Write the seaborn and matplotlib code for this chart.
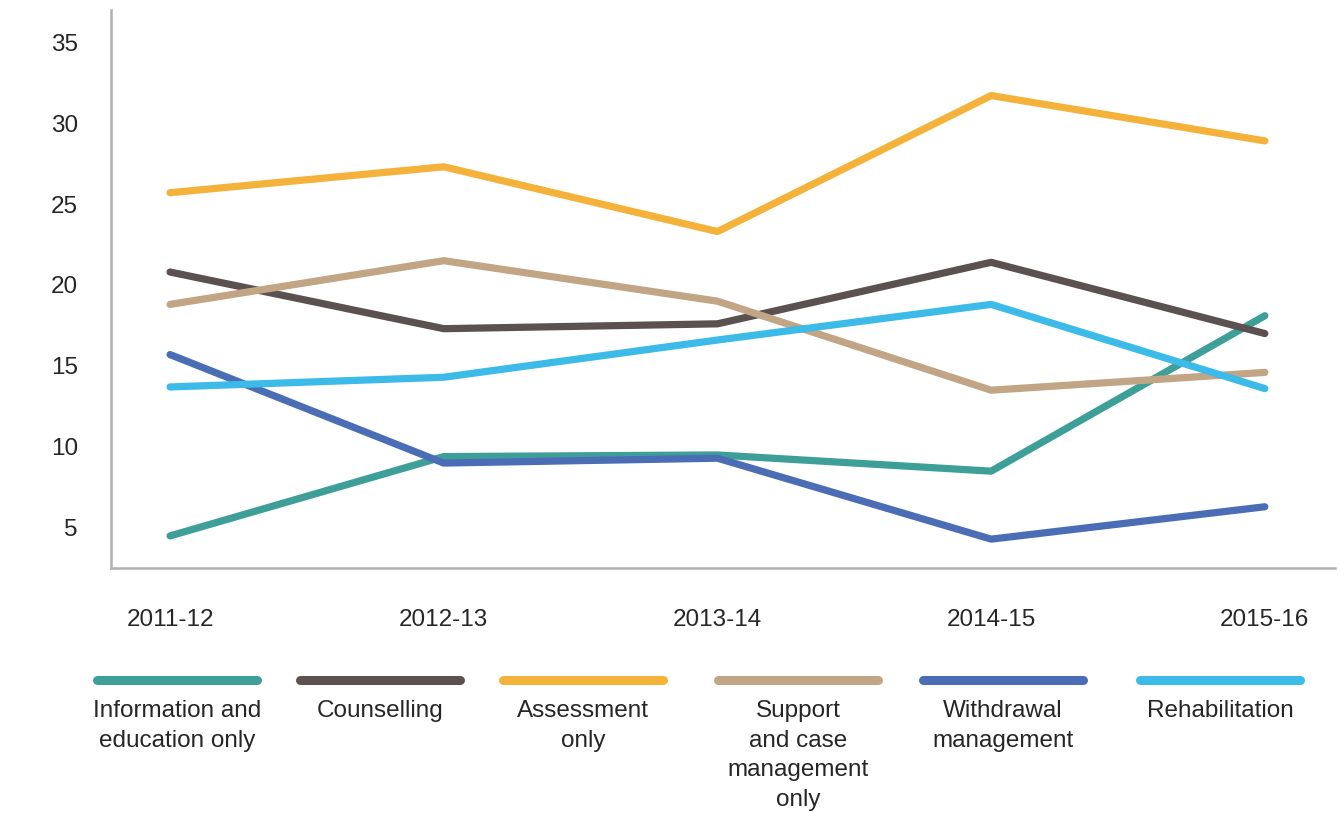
import matplotlib
matplotlib.use("Agg")
import matplotlib.pyplot as plt
from matplotlib.lines import Line2D
import seaborn as sns
import pandas as pd

years = ["2011-12", "2012-13", "2013-14", "2014-15", "2015-16"]
info_education = [4.5, 9.4, 9.5, 8.5, 18.1]
counselling = [20.8, 17.3, 17.6, 21.4, 17.0]
assessment = [25.7, 27.3, 23.3, 31.7, 28.9]
support_case = [18.8, 21.5, 19.0, 13.5, 14.6]
withdrawal = [15.7, 9.0, 9.3, 4.3, 6.3]
rehabilitation = [13.7, 14.3, 16.6, 18.8, 13.6]

series_names = [
    "Information and\neducation only",
    "Counselling",
    "Assessment\nonly",
    "Support\nand case\nmanagement\nonly",
    "Withdrawal\nmanagement",
    "Rehabilitation",
]
series_values = [info_education, counselling, assessment, support_case,
                 withdrawal, rehabilitation]
colors = ["#3e9f99", "#5b5150", "#f5b23a", "#c1a584", "#4b6db6", "#3cbbe9"]
y_ticks = [5, 10, 15, 20, 25, 30, 35]

rows = []
for name, vals in zip(series_names, series_values):
    for yr, v in zip(years, vals):
        rows.append({"year": yr, "value": v, "service": name})
df = pd.DataFrame(rows)

sns.set_theme(style="white")
plt.rcParams["font.family"] = ["Liberation Sans", "DejaVu Sans"]
text_color = "#262626"
font_size = 17.5

fig = plt.figure(figsize=(13.4, 8.13), dpi=100)
ax = fig.add_axes([0.083, 0.301, 0.913, 0.687])

sns.lineplot(data=df, x="year", y="value", hue="service", hue_order=series_names,
             palette=colors, linewidth=5.2, legend=False, ax=ax,
             solid_capstyle="round", solid_joinstyle="round")

ax.set_xlim(-0.215, 4.255)
ax.set_ylim(2.5, 37.0)
ax.set_yticks(y_ticks)
ax.set_yticklabels([str(t) for t in y_ticks], fontsize=font_size, color=text_color)
ax.set_xticks(range(len(years)))
ax.set_xticklabels(years, fontsize=font_size, color=text_color)
ax.tick_params(axis="y", length=0, pad=24)
ax.tick_params(axis="x", length=0, pad=29)
ax.set_xlabel("")
ax.set_ylabel("")
for side in ["top", "right"]:
    ax.spines[side].set_visible(False)
for side in ["left", "bottom"]:
    ax.spines[side].set_color("#b0b0b0")
    ax.spines[side].set_linewidth(1.8)

# Legend row: coloured bar above each centred label
legend_centers = [177, 380, 583, 798, 1003, 1220]
half_len = 80
line_y = 1 - 680 / 813
text_y = 1 - 700 / 813
for cx, name, col in zip(legend_centers, series_names, colors):
    fig.add_artist(Line2D([(cx - half_len) / 1340, (cx + half_len) / 1340],
                          [line_y, line_y], color=col, linewidth=6.5,
                          solid_capstyle="round", transform=fig.transFigure))
    fig.text(cx / 1340, text_y, name, ha="center", va="top", fontsize=font_size,
             color=text_color, linespacing=1.45)

fig.savefig("out.png", dpi=100, facecolor="white")
